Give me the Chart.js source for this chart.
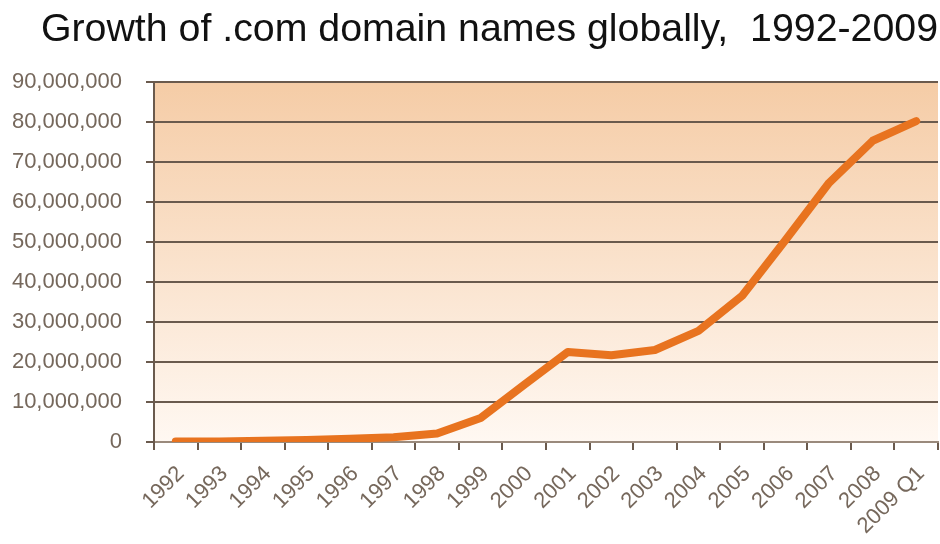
<!DOCTYPE html>
<html>
<head>
<meta charset="utf-8">
<script src="https://cdn.jsdelivr.net/npm/chart.js@4.4.1/dist/chart.umd.min.js"></script>
<style>
  html, body { margin: 0; padding: 0; background: #fff; }
  #wrap { width: 940px; height: 544px; }
</style>
</head>
<body>
<div id="wrap"><canvas id="domainChart" width="940" height="544"></canvas></div>
<script>
// .com domain names
const years = ["1992", "1993", "1994", "1995", "1996", "1997", "1998", "1999", "2000",
    "2001", "2002", "2003", "2004", "2005", "2006", "2007", "2008", "2009 Q1"];
const domains = [100000, 150000, 300000, 500000, 800000, 1200000, 2100000, 6000000, 14300000,
    22500000, 21700000, 23000000, 27800000, 36500000, 50500000, 64800000, 75300000, 80200000];
const yTicks = [0, 10000000, 20000000, 30000000, 40000000, 50000000, 60000000, 70000000, 80000000, 90000000];

const titleText = "Growth of .com domain names globally,  1992-2009";
const axisFont = '"Liberation Sans", Arial, sans-serif';
const labelColor = "#76685c";
const gridColor = "#6a5a4d";

// orange-to-white gradient behind the plot
const plotBg = {
    id: "plotBg",
    beforeDraw(chart) {
        const { ctx, chartArea: a } = chart;
        const g = ctx.createLinearGradient(0, a.top, 0, a.bottom);
        g.addColorStop(0, "#f5cca6");
        g.addColorStop(1, "#fff8f2");
        ctx.save();
        ctx.fillStyle = g;
        ctx.fillRect(a.left, a.top, a.right - a.left, a.bottom - a.top);
        ctx.restore();
    }
};

const ctx = document.getElementById("domainChart").getContext("2d");
new Chart(ctx, {
    type: "line",
    data: {
        labels: years,
        datasets: [{
            label: ".com domains",
            data: domains,
            borderColor: "#e8731f",
            borderWidth: 8,
            borderCapStyle: "round",
            borderJoinStyle: "round",
            pointRadius: 0,
            tension: 0,
            fill: false
        }]
    },
    options: {
        responsive: false,
        animation: false,
        layout: { padding: { left: 0, right: 2, top: 0, bottom: 0 } },
        plugins: {
            legend: { display: false },
            tooltip: { enabled: false },
            title: {
                display: true,
                text: titleText,
                align: "end",
                color: "#111",
                font: { family: '"Liberation Sans", Arial, sans-serif', size: 39.3, weight: "normal", lineHeight: 1.2 },
                padding: { top: 7, bottom: 27.8 }
            }
        },
        scales: {
            x: {
                offset: true,
                grid: {
                    offset: true,
                    drawOnChartArea: false,
                    drawTicks: true,
                    tickLength: 8,
                    color: gridColor,
                    lineWidth: 2
                },
                border: { color: "#9a8a7c", width: 2 },
                ticks: {
                    autoSkip: false,
                    minRotation: 45,
                    maxRotation: 45,
                    padding: 11,
                    labelOffset: 5,
                    color: labelColor,
                    font: { family: axisFont, size: 22 }
                },
                afterFit: s => {
                    s.height = 102;
                    s.paddingRight = 0;
                }
            },
            y: {
                min: 0,
                max: 90000000,
                afterBuildTicks: s => { s.ticks = yTicks.map(v => ({ value: v })); },
                grid: {
                    color: gridColor,
                    lineWidth: 2,
                    tickLength: 8
                },
                border: { color: gridColor, width: 2 },
                ticks: {
                    padding: 24,
                    color: labelColor,
                    font: { family: axisFont, size: 22 },
                    callback: v => v.toLocaleString("en-US")
                },
                afterFit: s => { s.width = 154; }
            }
        }
    },
    plugins: [plotBg]
});
</script>
</body>
</html>
